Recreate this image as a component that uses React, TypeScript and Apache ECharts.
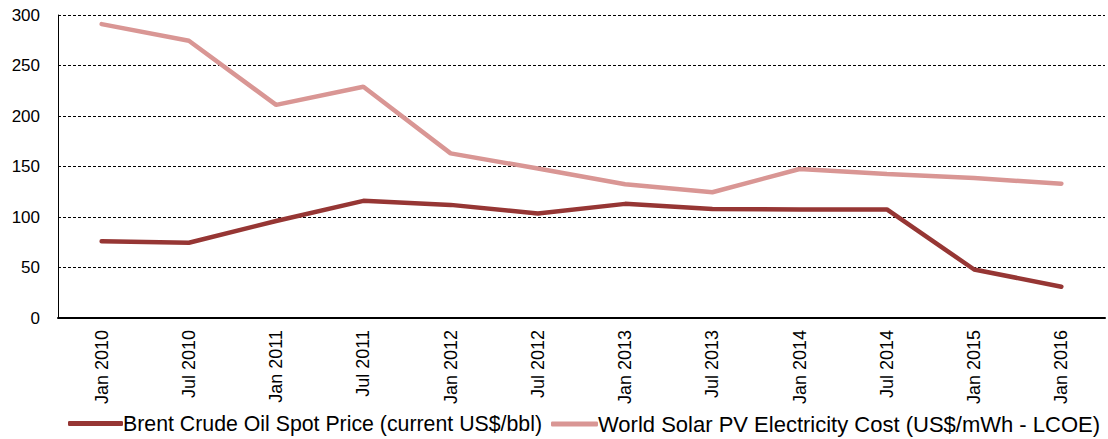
import React, { useEffect, useRef } from "react";
import * as echarts from "echarts";

const categories = [
  "Jan 2010", "Jul 2010", "Jan 2011", "Jul 2011", "Jan 2012", "Jul 2012",
  "Jan 2013", "Jul 2013", "Jan 2014", "Jul 2014", "Jan 2015", "Jan 2016",
];
const brentValues = [76, 74.5, 96, 116, 112, 103.5, 113, 108, 107.5, 107.5, 48, 31];
const solarValues = [291, 274.5, 211, 229, 163, 148, 132.5, 124.5, 147.5, 142.5, 138.5, 133];
const brentName = "Brent Crude Oil Spot Price (current US$/bbl)";
const solarName = "World Solar PV Electricity Cost (US$/mWh - LCOE)";
const brentColor = "#963634";
const solarColor = "#D99694";

export default function App() {
  const ref = useRef<HTMLDivElement>(null);
  useEffect(() => {
    if (!ref.current) return;
    const chart = echarts.init(ref.current, undefined, { renderer: "svg" });
    const font = "Liberation Sans, Arial, sans-serif";
    chart.setOption({
      animation: false,
      textStyle: { fontFamily: font },
      grid: { left: 58, right: 3, top: 15, bottom: 121, containLabel: false },
      legend: [
        {
          left: 63,
          top: 408,
          itemWidth: 55,
          itemHeight: 5,
          icon: "roundRect",
          textStyle: { fontSize: 21.3, color: "#000", fontFamily: font, padding: [0, 0, 0, -5] },
          data: [brentName],
        },
        {
          left: 546,
          top: 408,
          itemWidth: 47,
          itemHeight: 5,
          icon: "roundRect",
          textStyle: { fontSize: 22, color: "#000", fontFamily: font, padding: [0, 0, 0, -5] },
          data: [solarName],
        },
      ],
      xAxis: {
        type: "category",
        data: categories,
        boundaryGap: true,
        axisLine: { lineStyle: { color: "#000", width: 2 } },
        axisTick: { show: false },
        axisLabel: { rotate: 90, fontSize: 18, color: "#000", margin: 12, fontFamily: font },
      },
      yAxis: {
        type: "value",
        min: 0,
        max: 300,
        interval: 50,
        axisLine: { show: true, lineStyle: { color: "#000", width: 1 } },
        axisTick: { show: false },
        axisLabel: { fontSize: 17, color: "#000", margin: 18, fontFamily: font },
        splitLine: { lineStyle: { color: "#000", type: [3, 2], width: 1 } },
      },
      series: [
        {
          name: brentName,
          type: "line",
          data: brentValues,
          symbol: "none",
          lineStyle: { color: brentColor, width: 4.5, cap: "round" },
          itemStyle: { color: brentColor },
        },
        {
          name: solarName,
          type: "line",
          data: solarValues,
          symbol: "none",
          lineStyle: { color: solarColor, width: 4.5, cap: "round" },
          itemStyle: { color: solarColor },
        },
      ],
    });
    return () => chart.dispose();
  }, []);
  return (
    <div
      ref={ref}
      style={{ position: "absolute", left: 0, top: 0, width: 1108, height: 439 }}
    />
  );
}
